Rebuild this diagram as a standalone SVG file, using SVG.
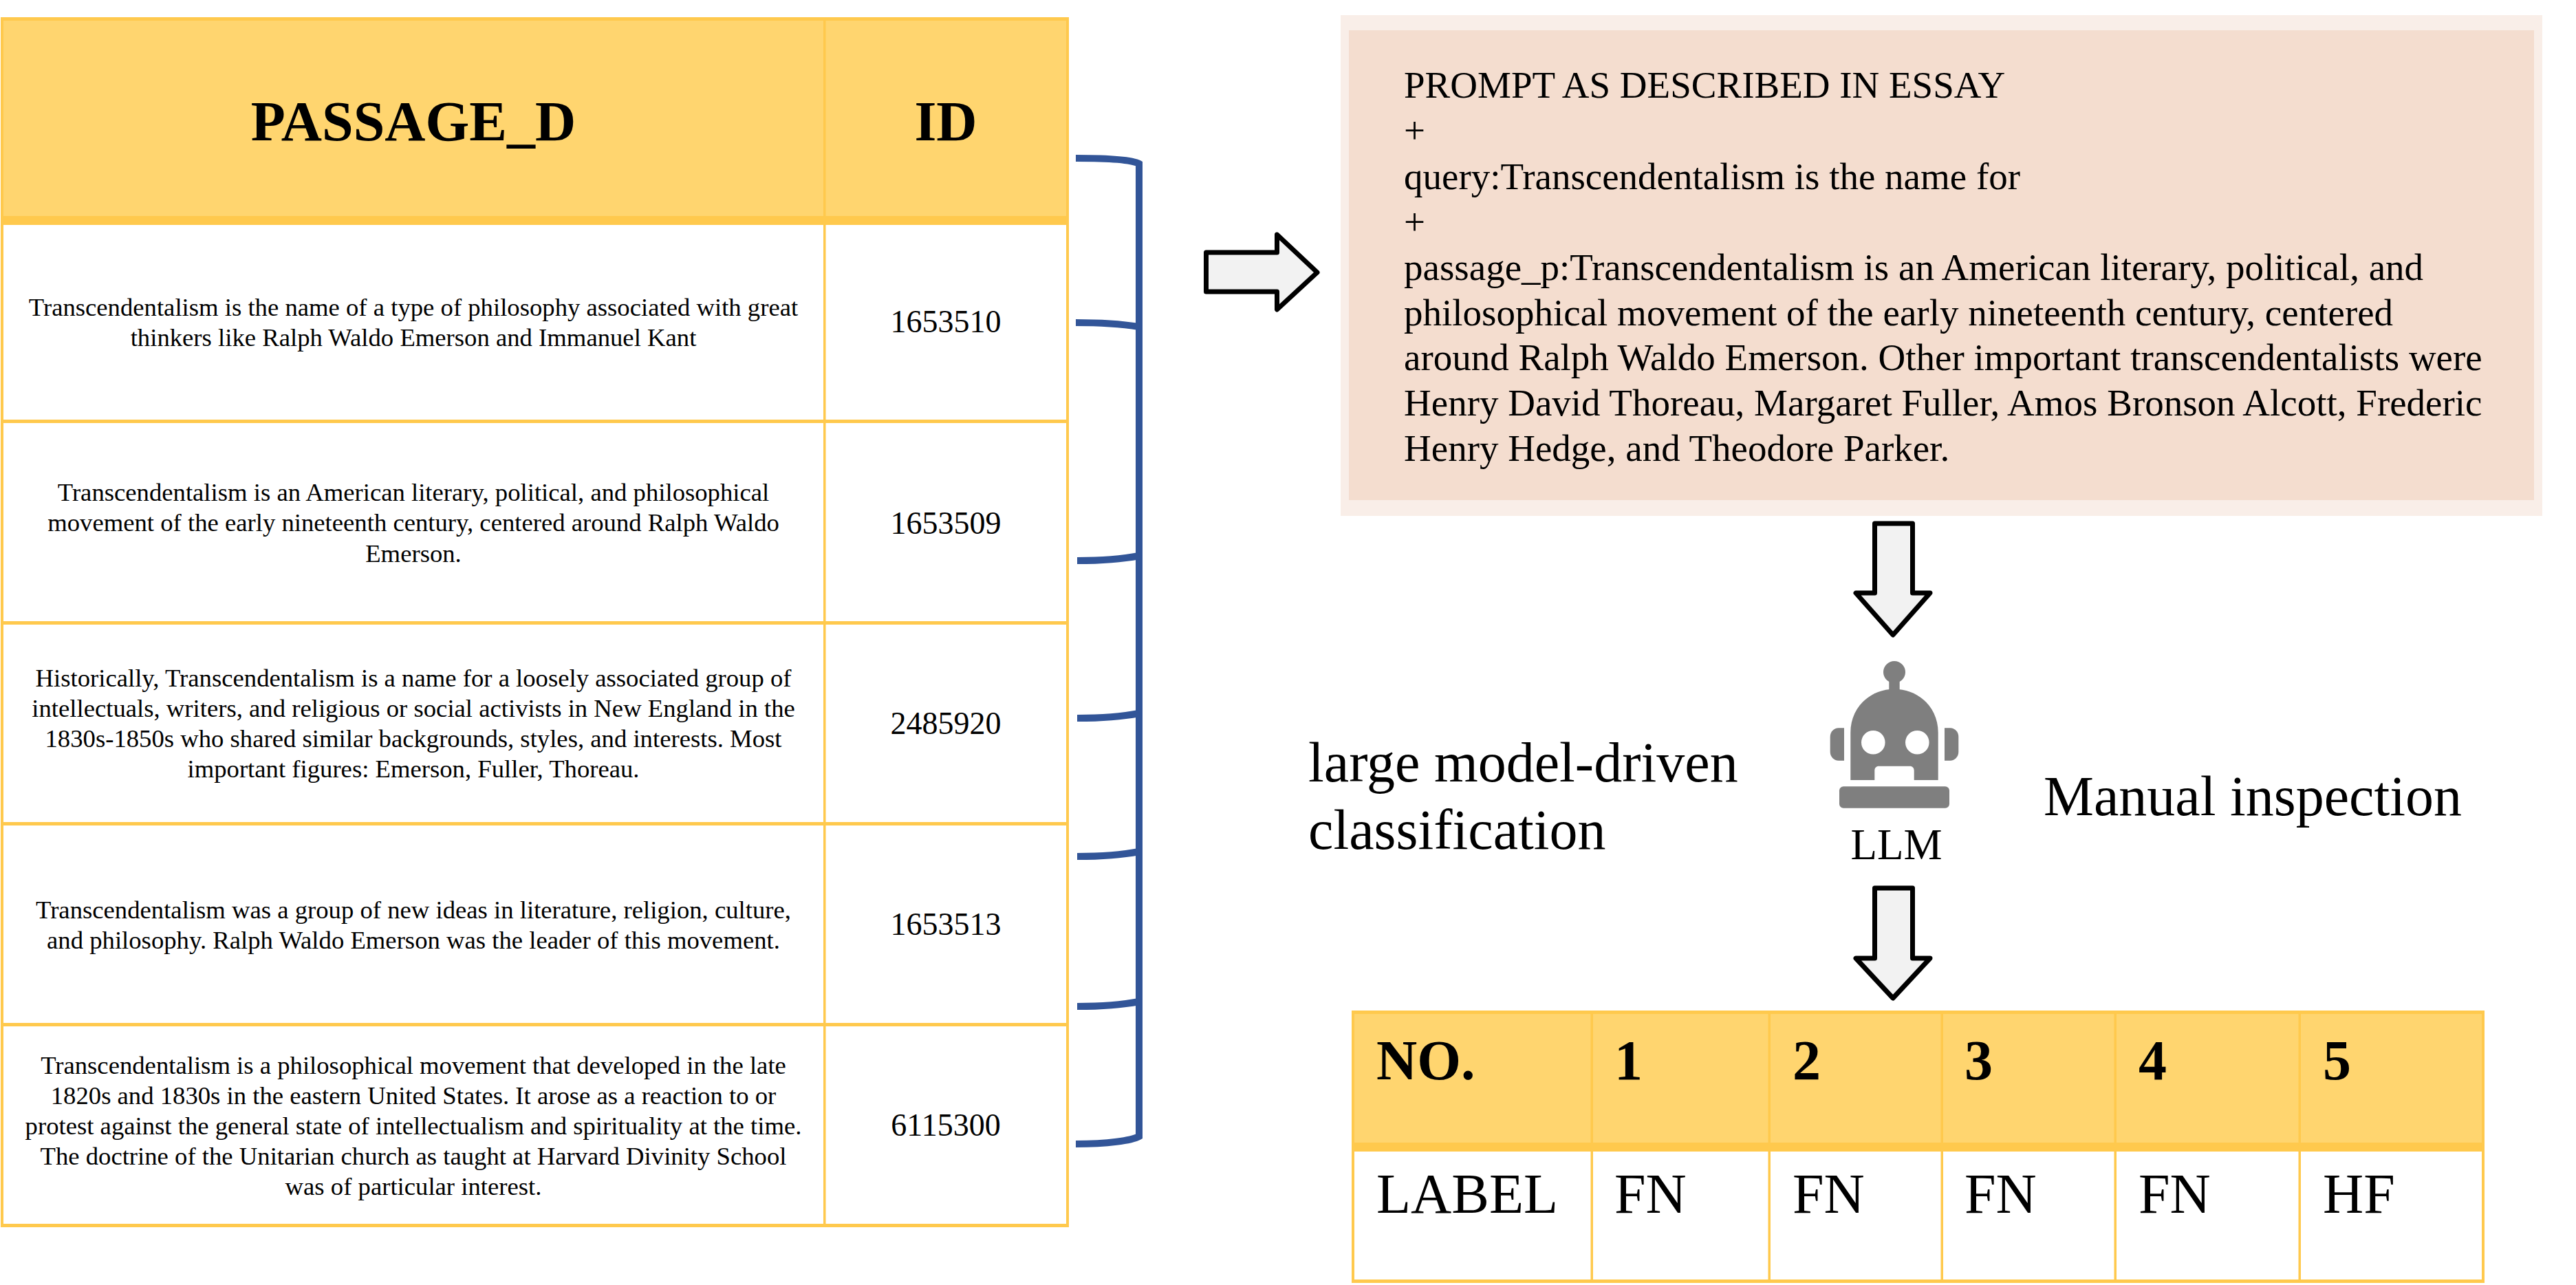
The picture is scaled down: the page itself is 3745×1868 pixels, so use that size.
<svg xmlns="http://www.w3.org/2000/svg" width="3745" height="1868" viewBox="0 0 3745 1868">
<style>
text{font-family:"Liberation Serif","Times New Roman",serif;fill:#000}
.r{font-size:36.700px;text-anchor:middle}
.i{font-size:46px;text-anchor:middle}
.h{font-size:82px;font-weight:bold;text-anchor:middle}
.p{font-size:55px}
.b{font-size:82px}
.bb{font-size:82px;font-weight:bold}
.head{fill:#FFD56F}
.ln{fill:#FFC94D}
.ar{fill:#F2F2F2;stroke:#000;stroke-width:7;stroke-linejoin:round}
.br{fill:none;stroke:#325598;stroke-width:10}
.g{fill:#7F7F7F}
</style>
<rect width="3745" height="1868" fill="#fff"/>
<g id="passage-table">
<rect class="head" x="2" y="26" width="1551" height="290"/>
<rect class="ln" x="1" y="25" width="1553" height="5"/>
<rect class="ln" x="1" y="314" width="1553" height="13"/>
<rect class="ln" x="1" y="610" width="1553" height="5"/>
<rect class="ln" x="1" y="903" width="1553" height="5"/>
<rect class="ln" x="1" y="1195" width="1553" height="5"/>
<rect class="ln" x="1" y="1487" width="1553" height="5"/>
<rect class="ln" x="1" y="1779" width="1553" height="5"/>
<rect class="ln" x="1" y="25" width="4" height="1759"/>
<rect class="ln" x="1197" y="25" width="3.500" height="1759"/>
<rect class="ln" x="1550" y="25" width="4" height="1759"/>
<text class="h" x="601" y="204">PASSAGE_D</text>
<text class="h" x="1375" y="204">ID</text>
<text class="r" x="601" y="459">Transcendentalism is the name of a type of philosophy associated with great</text>
<text class="r" x="601" y="503">thinkers like Ralph Waldo Emerson and Immanuel Kant</text>
<text class="i" x="1375" y="483">1653510</text>
<text class="r" x="601" y="728">Transcendentalism is an American literary, political, and philosophical</text>
<text class="r" x="601" y="772">movement of the early nineteenth century, centered around Ralph Waldo</text>
<text class="r" x="601" y="817">Emerson.</text>
<text class="i" x="1375" y="776">1653509</text>
<text class="r" x="601" y="998">Historically, Transcendentalism is a name for a loosely associated group of</text>
<text class="r" x="601" y="1042">intellectuals, writers, and religious or social activists in New England in the</text>
<text class="r" x="601" y="1086">1830s-1850s who shared similar backgrounds, styles, and interests. Most</text>
<text class="r" x="601" y="1130">important figures: Emerson, Fuller, Thoreau.</text>
<text class="i" x="1375" y="1067">2485920</text>
<text class="r" x="601" y="1335">Transcendentalism was a group of new ideas in literature, religion, culture,</text>
<text class="r" x="601" y="1379">and philosophy. Ralph Waldo Emerson was the leader of this movement.</text>
<text class="i" x="1375" y="1359">1653513</text>
<text class="r" x="601" y="1561">Transcendentalism is a philosophical movement that developed in the late</text>
<text class="r" x="601" y="1605">1820s and 1830s in the eastern United States. It arose as a reaction to or</text>
<text class="r" x="601" y="1649">protest against the general state of intellectualism and spirituality at the time.</text>
<text class="r" x="601" y="1693">The doctrine of the Unitarian church as taught at Harvard Divinity School</text>
<text class="r" x="601" y="1737">was of particular interest.</text>
<text class="i" x="1375" y="1651">6115300</text>
</g>
<g id="connectors">
<path class="br" d="M1564 230C1610 230 1645 232 1656 238V1652C1645 1658 1610 1663 1564 1663"/>
<path class="br" d="M1564 469C1600 469 1630 471 1656 475"/>
<path class="br" d="M1566 815C1600 815 1630 813 1656 808"/>
<path class="br" d="M1566 1044C1600 1044 1630 1042 1656 1037"/>
<path class="br" d="M1566 1245C1600 1245 1630 1243 1656 1238"/>
<path class="br" d="M1566 1463C1600 1463 1630 1461 1656 1456"/>
<path class="ar" d="M1753.500 367H1856.500V341L1915 396L1856.500 450V424H1753.500Z"/>
<path class="ar" d="M2725.500 761H2780.500V862H2806L2752 923L2698 862H2725.500Z"/>
<path class="ar" d="M2725.500 1291H2780.500V1393H2806L2752 1451L2698 1393H2725.500Z"/>
</g>
<g id="prompt-box">
<rect x="1949" y="22" width="1747" height="728" fill="#F9EEE8"/>
<rect x="1961" y="44" width="1723" height="683" fill="#F4DDCF"/>
<text class="p" x="2041" y="142">PROMPT AS DESCRIBED IN ESSAY</text>
<text class="p" x="2041" y="208">+</text>
<text class="p" x="2041" y="275">query:Transcendentalism is the name for</text>
<text class="p" x="2041" y="341">+</text>
<text class="p" x="2041" y="407">passage_p:Transcendentalism is an American literary, political, and</text>
<text class="p" x="2041" y="473">philosophical movement of the early nineteenth century, centered</text>
<text class="p" x="2041" y="538">around Ralph Waldo Emerson. Other important transcendentalists were</text>
<text class="p" x="2041" y="604">Henry David Thoreau, Margaret Fuller, Amos Bronson Alcott, Frederic</text>
<text class="p" x="2041" y="670">Henry Hedge, and Theodore Parker.</text>
</g>
<g id="llm">
<circle class="g" cx="2754" cy="977" r="16"/>
<rect class="g" x="2746.300" y="985" width="15.400" height="20"/>
<path class="g" fill-rule="evenodd" d="M2690.300 1134V1065C2690.300 1028 2719 1001.700 2754 1001.700C2789 1001.700 2817.700 1028 2817.700 1065V1134H2782.700V1120C2782.700 1116 2780 1113.700 2776.700 1113.700H2731.300C2728 1113.700 2725.300 1116 2725.300 1120V1134ZM2706 1079.300a17.300 17.300 0 1 0 34.600 0a17.300 17.300 0 1 0 -34.600 0ZM2770 1079.300a17.300 17.300 0 1 0 34.600 0a17.300 17.300 0 1 0 -34.600 0Z"/>
<path class="g" d="M2681 1058.300H2673C2666 1058.300 2660.700 1064 2660.700 1071V1093C2660.700 1100 2666 1105.700 2673 1105.700H2681Z"/>
<path class="g" d="M2827 1058.300H2835C2842 1058.300 2847.300 1064 2847.300 1071V1093C2847.300 1100 2842 1105.700 2835 1105.700H2827Z"/>
<rect class="g" x="2674" y="1143.300" width="160" height="31.400" rx="6"/>
<text x="2757" y="1249" font-size="63" text-anchor="middle">LLM</text>
</g>
<g id="label-classification">
<text class="b" x="1902" y="1136">large model-driven</text>
<text class="b" x="1902" y="1234">classification</text>
</g>
<g id="label-inspection">
<text class="b" x="2971" y="1185">Manual inspection</text>
</g>
<g id="result-table">
<rect class="head" x="1967" y="1471" width="1643" height="195"/>
<rect class="ln" x="1965" y="1469" width="1647" height="5"/>
<rect class="ln" x="1965" y="1661" width="1647" height="13"/>
<rect class="ln" x="1965" y="1860" width="1647" height="5"/>
<rect class="ln" x="1965" y="1469" width="4" height="396"/>
<rect class="ln" x="2312.500" y="1469" width="3.500" height="396"/>
<rect class="ln" x="2570.500" y="1469" width="3.500" height="396"/>
<rect class="ln" x="2821.500" y="1469" width="3.500" height="396"/>
<rect class="ln" x="3073.500" y="1469" width="3.500" height="396"/>
<rect class="ln" x="3341.500" y="1469" width="3.500" height="396"/>
<rect class="ln" x="3608" y="1469" width="4" height="396"/>
<text class="bb" x="2001" y="1569">NO.</text>
<text class="bb" x="2347" y="1569">1</text>
<text class="bb" x="2606" y="1569">2</text>
<text class="bb" x="2856" y="1569">3</text>
<text class="bb" x="3109" y="1569">4</text>
<text class="bb" x="3377" y="1569">5</text>
<text class="b" x="2001" y="1763">LABEL</text>
<text class="b" x="2347" y="1763">FN</text>
<text class="b" x="2606" y="1763">FN</text>
<text class="b" x="2856" y="1763">FN</text>
<text class="b" x="3109" y="1763">FN</text>
<text class="b" x="3377" y="1763">HF</text>
</g>
</svg>
